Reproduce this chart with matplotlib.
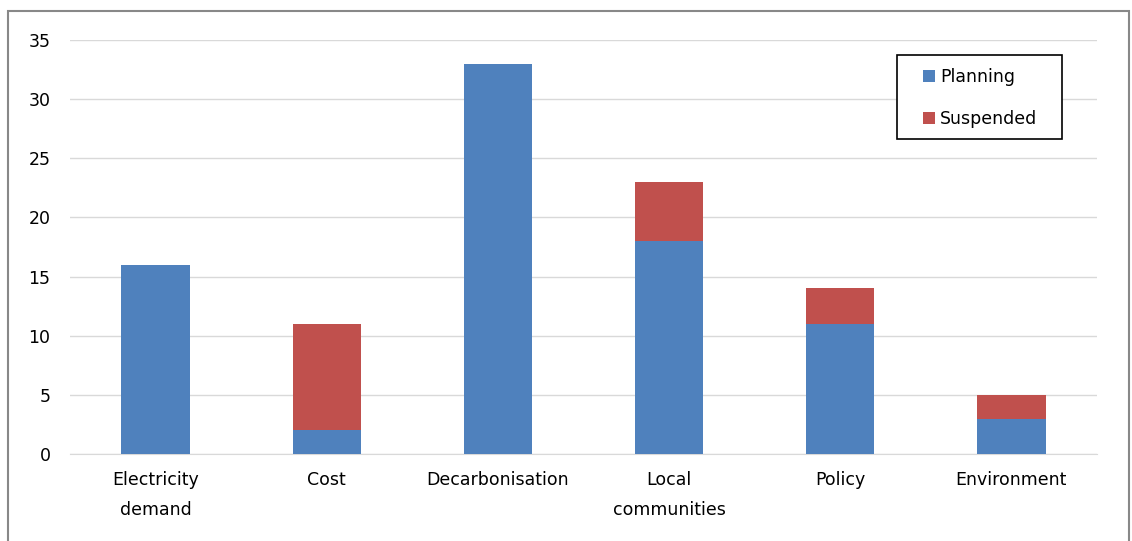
import matplotlib.pyplot as plt
from matplotlib.patches import Rectangle

categories = ['Electricity\ndemand', 'Cost', 'Decarbonisation', 'Local\ncommunities', 'Policy', 'Environment']
planning = [16, 2, 33, 18, 11, 3]
suspended = [0, 9, 0, 5, 3, 2]

plt.rcParams['font.family'] = ['DejaVu Sans']

fig = plt.figure(figsize=(11.32, 5.41), dpi=100)
ax = fig.add_axes([70 / 1132, 1 - 454 / 541, 1027 / 1132, 414 / 541])

# outer frame of the chart area
fig.patches.append(Rectangle((8 / 1132, -0.05), 1121 / 1132, 1 - 11 / 541 + 0.05,
                             transform=fig.transFigure, fill=False,
                             edgecolor='#888888', linewidth=1.5))

x = list(range(len(categories)))
ax.bar(x, planning, width=0.4, color='#4F81BD', label='Planning', zorder=3)
ax.bar(x, suspended, width=0.4, bottom=planning, color='#C0504D', label='Suspended', zorder=3)

ax.set_xlim(-0.5, len(categories) - 0.5)
ax.set_ylim(0, 35)
ax.set_yticks(range(0, 36, 5))
ax.set_xticks(x)
ax.set_xticklabels(categories, fontsize=12.5, linespacing=1.85)
ax.tick_params(axis='y', labelsize=12.5, length=0, pad=14)
ax.tick_params(axis='x', length=0, pad=12)
ax.grid(axis='y', color='#d9d9d9', linewidth=1, zorder=0)
for side in ['top', 'right', 'left']:
    ax.spines[side].set_visible(False)
ax.spines['bottom'].set_color('#d9d9d9')

# legend box drawn separately so its padding matches the original
fig.patches.append(Rectangle((897 / 1132, 1 - 139 / 541), 165 / 1132, 84 / 541,
                             transform=fig.transFigure, facecolor='white',
                             edgecolor='black', linewidth=1.2, zorder=5))
leg = fig.legend(*ax.get_legend_handles_labels(), loc='upper left',
                 bbox_to_anchor=(923 / 1132, 1 - 68 / 541), bbox_transform=fig.transFigure,
                 fontsize=12.5, frameon=False, handlelength=0.7,
                 handleheight=0.7, handletextpad=0.3, labelspacing=1.4,
                 borderpad=0, borderaxespad=0)
leg.set_zorder(6)

fig.savefig('out.png', dpi=100)
